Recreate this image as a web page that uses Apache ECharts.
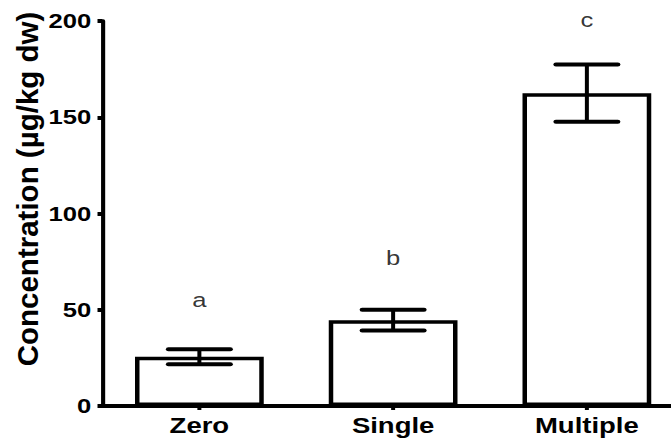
<!DOCTYPE html>
<html>
<head>
<meta charset="utf-8">
<script src="https://cdn.jsdelivr.net/npm/echarts@6/dist/echarts.min.js"></script>
<style>
  html, body { margin: 0; padding: 0; background: #fff; overflow: hidden; }
  /* The figure is laid out at 537px wide and stretched horizontally to 671px. */
  #chart { width: 537px; height: 443px; transform: scaleX(1.25); transform-origin: 0 0; }
</style>
</head>
<body>
<div id="chart"></div>
<script>
// Treatment groups and their mean concentrations (µg/kg dw)
var categories = ['Zero', 'Single', 'Multiple'];
var means = [25.6, 44.6, 162.5];
var sems = [3.9, 5.4, 14.9];
// Significance letters and the heights they are written at
var letters = ['a', 'b', 'c'];
var letterY = [55, 77, 200.5];
// Y-axis range and tick step
var yMin = 0, yMax = 200, yStep = 50;
var yTitle = 'Concentration (µg/kg dw)';

var FONT = '"Liberation Sans", Arial, Helvetica, sans-serif';
var STRETCH = 1.25;

var chart = echarts.init(document.getElementById('chart'), null, { renderer: 'svg' });

chart.setOption({
  animation: false,
  backgroundColor: '#fff',
  grid: { left: 82, right: -10, top: 21, bottom: 37, containLabel: false, outerBoundsMode: 'none' },
  xAxis: {
    type: 'category',
    data: categories,
    axisLine: { lineStyle: { color: '#000', width: 4 } },
    axisTick: { show: true, alignWithLabel: true, length: 4, lineStyle: { color: '#000', width: 3.2 } },
    axisLabel: { color: '#000', fontFamily: FONT, fontWeight: 'bold', fontSize: 22, margin: 8 },
    splitLine: { show: false }
  },
  yAxis: {
    type: 'value',
    min: yMin, max: yMax, interval: yStep,
    axisLine: { show: true, lineStyle: { color: '#000', width: 3.3 } },
    axisTick: { show: true, length: 4, lineStyle: { color: '#000', width: 4 } },
    axisLabel: { color: '#000', fontFamily: FONT, fontWeight: 'bold', fontSize: 20.5, margin: 9 },
    splitLine: { show: false }
  },
  // Y-axis title, kept at its natural proportions inside the stretched layout
  graphic: [{
    type: 'text',
    x: 22,
    y: 189,
    rotation: Math.PI / 2,
    scaleY: 1 / STRETCH,
    style: {
      text: yTitle,
      fill: '#000',
      font: 'bold 29.5px ' + FONT,
      align: 'center',
      verticalAlign: 'middle'
    }
  }],
  series: [
    {
      type: 'bar',
      data: means,
      barWidth: 103,
      itemStyle: { color: '#fff', borderColor: '#000', borderWidth: 3.6 },
      z: 2
    },
    {
      // Mean ± SEM error bars
      type: 'custom',
      data: means.map(function (m, i) { return [i, m - sems[i], m + sems[i]]; }),
      z: 3,
      renderItem: function (params, api) {
        var i = api.value(0);
        var lo = api.coord([i, api.value(1)]);
        var hi = api.coord([i, api.value(2)]);
        var half = 24.8;
        var capStyle = { stroke: '#000', lineWidth: 4, lineCap: 'round' };
        return {
          type: 'group',
          children: [
            { type: 'line', shape: { x1: hi[0], y1: hi[1], x2: lo[0], y2: lo[1] }, style: { stroke: '#000', lineWidth: 3.2 } },
            { type: 'line', shape: { x1: hi[0] - half, y1: hi[1], x2: hi[0] + half, y2: hi[1] }, style: capStyle },
            { type: 'line', shape: { x1: lo[0] - half, y1: lo[1], x2: lo[0] + half, y2: lo[1] }, style: capStyle }
          ]
        };
      }
    },
    {
      // Group letters
      type: 'scatter',
      data: letterY.map(function (y, i) { return [i, y]; }),
      symbolSize: 0,
      clip: false,
      silent: true,
      label: {
        show: true,
        position: 'inside',
        formatter: function (p) { return letters[p.dataIndex]; },
        color: '#000',
        fontFamily: FONT,
        fontSize: 20.5
      }
    }
  ]
});
</script>
</body>
</html>
